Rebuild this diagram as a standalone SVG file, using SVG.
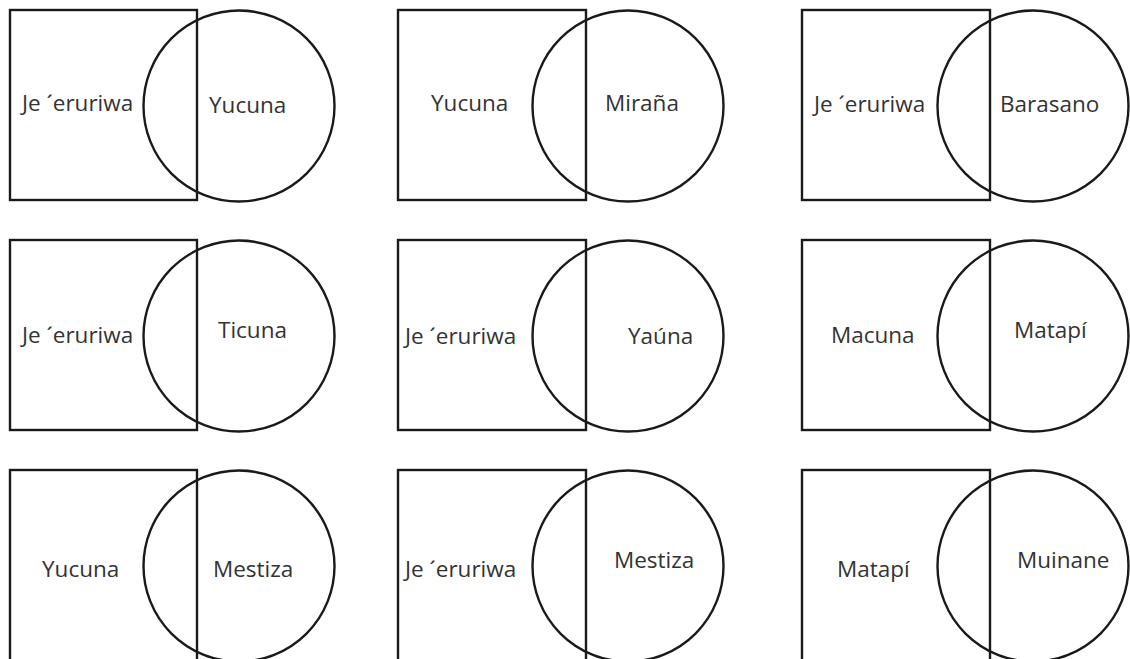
<svg xmlns="http://www.w3.org/2000/svg" width="1130" height="659" viewBox="0 0 1130 659">
<style>
.sq{fill:none;stroke:#1a1a1a;stroke-width:2.4}
.ci{fill:none;stroke:#1a1a1a;stroke-width:2.4}
.t{font-family:"Open Sans","Noto Sans",sans-serif;font-size:22.5px;fill:#333}
</style>
<rect width="1130" height="659" fill="#fff"/>
<g id="p1"><rect class="sq" x="10" y="10" width="187" height="190"/><circle class="ci" cx="239" cy="106" r="95.5"/><text class="t" x="22" y="111">Je ´eruriwa</text><text class="t" x="209" y="113">Yucuna</text></g>
<g id="p2"><rect class="sq" x="398" y="10" width="188" height="190"/><circle class="ci" cx="628" cy="106" r="95.5"/><text class="t" x="431" y="111">Yucuna</text><text class="t" x="605" y="111">Miraña</text></g>
<g id="p3"><rect class="sq" x="802" y="10" width="188" height="190"/><circle class="ci" cx="1033" cy="106" r="95.5"/><text class="t" x="814" y="112">Je ´eruriwa</text><text class="t" x="1000" y="112">Barasano</text></g>
<g id="p4"><rect class="sq" x="10" y="240" width="187" height="190"/><circle class="ci" cx="239" cy="336" r="95.5"/><text class="t" x="22" y="343">Je ´eruriwa</text><text class="t" x="218" y="338">Ticuna</text></g>
<g id="p5"><rect class="sq" x="398" y="240" width="188" height="190"/><circle class="ci" cx="628" cy="336" r="95.5"/><text class="t" x="405" y="344">Je ´eruriwa</text><text class="t" x="628" y="344">Yaúna</text></g>
<g id="p6"><rect class="sq" x="802" y="240" width="188" height="190"/><circle class="ci" cx="1033" cy="336" r="95.5"/><text class="t" x="831" y="343">Macuna</text><text class="t" x="1014" y="338">Matapí</text></g>
<g id="p7"><rect class="sq" x="10" y="470" width="187" height="192"/><circle class="ci" cx="239" cy="566" r="95.5"/><text class="t" x="42" y="577">Yucuna</text><text class="t" x="213" y="577">Mestiza</text></g>
<g id="p8"><rect class="sq" x="398" y="470" width="188" height="192"/><circle class="ci" cx="628" cy="566" r="95.5"/><text class="t" x="405" y="577">Je ´eruriwa</text><text class="t" x="614" y="568">Mestiza</text></g>
<g id="p9"><rect class="sq" x="802" y="470" width="188" height="192"/><circle class="ci" cx="1033" cy="566" r="95.5"/><text class="t" x="837" y="577">Matapí</text><text class="t" x="1017" y="568">Muinane</text></g>
<g id="connectors"/>
</svg>
